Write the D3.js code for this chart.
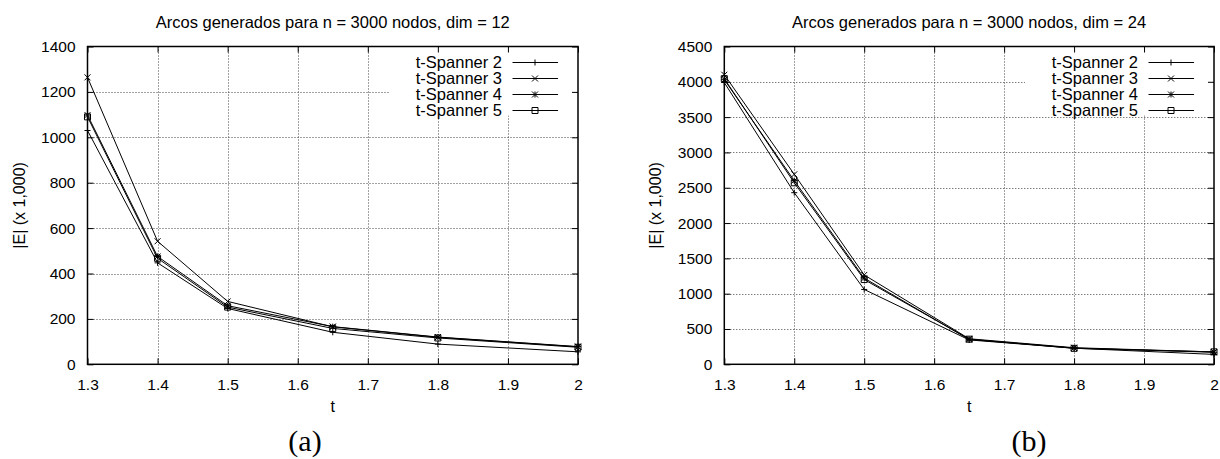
<!DOCTYPE html>
<html>
<head>
<meta charset="utf-8">
<script src="https://cdn.jsdelivr.net/npm/d3@7"></script>
<style>
  html, body { margin: 0; padding: 0; background: #fff; }
  svg { display: block; }
  text { font-family: "Liberation Sans", Arial, Helvetica, sans-serif; fill: #000; }
</style>
</head>
<body>
<svg id="chart" width="1220" height="459"></svg>
<script>
// ---------- data ----------
const tValues = [1.3, 1.4, 1.5, 1.65, 1.8, 2.0];
const seriesNames = ["t-Spanner 2", "t-Spanner 3", "t-Spanner 4", "t-Spanner 5"];
const markerTypes = ["plus", "cross", "star", "square"];

// panel (a): dim = 12
const dim12_s2 = [1030, 447, 246, 141, 89, 55];
const dim12_s3 = [1264, 542, 277, 165, 119, 77];
const dim12_s4 = [1098, 475, 258, 166, 120, 78];
const dim12_s5 = [1090, 467, 252, 158, 116, 75];

// panel (b): dim = 24
const dim24_s2 = [3990, 2430, 1060, 345, 228, 140];
const dim24_s3 = [4100, 2690, 1265, 362, 235, 175];
const dim24_s4 = [4030, 2600, 1220, 352, 230, 170];
const dim24_s5 = [4045, 2570, 1200, 356, 226, 176];

const xTicks = [1.3, 1.4, 1.5, 1.6, 1.7, 1.8, 1.9, 2];
const yTicksA = [0, 200, 400, 600, 800, 1000, 1200, 1400];
const yTicksB = [0, 500, 1000, 1500, 2000, 2500, 3000, 3500, 4000, 4500];

const titleA = "Arcos generados para n = 3000 nodos, dim = 12";
const titleB = "Arcos generados para n = 3000 nodos, dim = 24";
const xLabel = "t";
const yLabel = "|E| (x 1,000)";
const captionA = "(a)";
const captionB = "(b)";

// ---------- drawing ----------
const svg = d3.select("#chart");

function markerPath(type, r) {
  switch (type) {
    case "plus": return `M${-r},0H${r}M0,${-r}V${r}`;
    case "cross": return `M${-r},${-r}L${r},${r}M${-r},${r}L${r},${-r}`;
    case "star": return `M${-r},0H${r}M0,${-r}V${r}M${-r},${-r}L${r},${r}M${-r},${r}L${r},${-r}`;
    case "square": return `M${-r},${-r}H${r}V${r}H${-r}Z`;
  }
}

function drawPanel(cfg) {
  const g = svg.append("g");
  const x = d3.scaleLinear().domain([1.3, 2]).range([cfg.left, cfg.right]);
  const y = d3.scaleLinear().domain([0, cfg.yMax]).range([cfg.bottom, cfg.top]);

  // grid
  const grid = g.append("g").attr("stroke", "#444").attr("stroke-width", 1)
    .attr("stroke-dasharray", "1,2");
  grid.selectAll("line.gx").data(xTicks.slice(1, -1)).join("line")
    .attr("x1", d => Math.round(x(d)) + 0.5).attr("x2", d => Math.round(x(d)) + 0.5)
    .attr("y1", cfg.top).attr("y2", cfg.bottom);
  grid.selectAll("line.gy").data(cfg.yTicks.slice(1, -1)).join("line")
    .attr("y1", d => Math.round(y(d)) + 0.5).attr("y2", d => Math.round(y(d)) + 0.5)
    .attr("x1", cfg.left).attr("x2", cfg.right);

  // legend background hiding the grid
  g.append("rect").attr("x", cfg.right - 189).attr("y", cfg.top + 2)
    .attr("width", 187).attr("height", 67).attr("fill", "#fff");

  // axes (inward ticks)
  const tick = 6;
  const fmtX = d => d3.format("")(d);
  const fmtY = d3.format("d");
  const axB = g.append("g").attr("transform", `translate(0,${cfg.bottom})`)
    .call(d3.axisBottom(x).tickValues(xTicks).tickSize(-tick).tickPadding(tick + 9).tickFormat(fmtX));
  const axT = g.append("g").attr("transform", `translate(0,${cfg.top})`)
    .call(d3.axisTop(x).tickValues(xTicks).tickSize(-tick).tickFormat(""));
  const axL = g.append("g").attr("transform", `translate(${cfg.left},0)`)
    .call(d3.axisLeft(y).tickValues(cfg.yTicks).tickSize(-tick).tickPadding(tick + 6).tickFormat(fmtY));
  const axR = g.append("g").attr("transform", `translate(${cfg.right},0)`)
    .call(d3.axisRight(y).tickValues(cfg.yTicks).tickSize(-tick).tickFormat(""));
  [axB, axT, axL, axR].forEach(a => {
    a.select(".domain").remove();
    a.selectAll(".tick line").attr("stroke", "#000").attr("stroke-width", 1);
    a.selectAll("text").style("font-family", '"Liberation Sans", Arial, sans-serif')
      .style("font-size", "15.5px").attr("fill", "#000");
  });

  // border
  g.append("rect").attr("x", cfg.left).attr("y", cfg.top)
    .attr("width", cfg.right - cfg.left).attr("height", cfg.bottom - cfg.top)
    .attr("fill", "none").attr("stroke", "#000").attr("stroke-width", 1.5);

  // series
  const line = d3.line().x((d, i) => x(tValues[i])).y(d => y(d));
  cfg.series.forEach((vals, si) => {
    g.append("path").datum(vals).attr("d", line)
      .attr("fill", "none").attr("stroke", "#000").attr("stroke-width", 1);
    g.selectAll(null).data(vals).join("path")
      .attr("transform", (d, i) => `translate(${x(tValues[i])},${y(d)})`)
      .attr("d", markerPath(markerTypes[si], 3))
      .attr("fill", "none").attr("stroke", "#000").attr("stroke-width", 1);
  });

  // legend
  const lg = g.append("g");
  seriesNames.forEach((name, i) => {
    const ly = cfg.top + 15.5 + i * 16;
    lg.append("text").attr("x", cfg.right - 76).attr("y", ly).attr("dy", "0.35em")
      .attr("text-anchor", "end").style("font-size", "16.5px").text(name);
    lg.append("line").attr("x1", cfg.right - 65.5).attr("x2", cfg.right - 20)
      .attr("y1", Math.round(ly) + 0.5).attr("y2", Math.round(ly) + 0.5)
      .attr("stroke", "#000").attr("stroke-width", 1);
    lg.append("path").attr("transform", `translate(${cfg.right - 43},${Math.round(ly) + 0.5})`)
      .attr("d", markerPath(markerTypes[i], 3))
      .attr("fill", "none").attr("stroke", "#000").attr("stroke-width", 1);
  });

  // titles & labels
  const cx = (cfg.left + cfg.right) / 2;
  g.append("text").attr("x", cx).attr("y", 28).attr("text-anchor", "middle")
    .style("font-size", "16.5px").text(cfg.title);
  g.append("text").attr("x", cx).attr("y", 412).attr("text-anchor", "middle")
    .style("font-size", "16px").text(xLabel);
  g.append("text").attr("transform", `translate(${cfg.yLabelX},${(cfg.top + cfg.bottom) / 2}) rotate(-90)`)
    .attr("text-anchor", "middle").style("font-size", "16px").text(yLabel);
  g.append("text").attr("x", cfg.captionX).attr("y", 451).attr("text-anchor", "middle")
    .style("font-family", '"Liberation Serif", "DejaVu Serif", serif').style("font-size", "30px")
    .text(cfg.caption);
}

drawPanel({
  left: 87.5, right: 578, top: 46.5, bottom: 364.3, yMax: 1400, yTicks: yTicksA,
  series: [dim12_s2, dim12_s3, dim12_s4, dim12_s5], title: titleA, caption: captionA,
  yLabelX: 25, captionX: 305
});
drawPanel({
  left: 724.3, right: 1214, top: 46.5, bottom: 364.3, yMax: 4500, yTicks: yTicksB,
  series: [dim24_s2, dim24_s3, dim24_s4, dim24_s5], title: titleB, caption: captionB,
  yLabelX: 661, captionX: 1029
});
</script>
</body>
</html>
